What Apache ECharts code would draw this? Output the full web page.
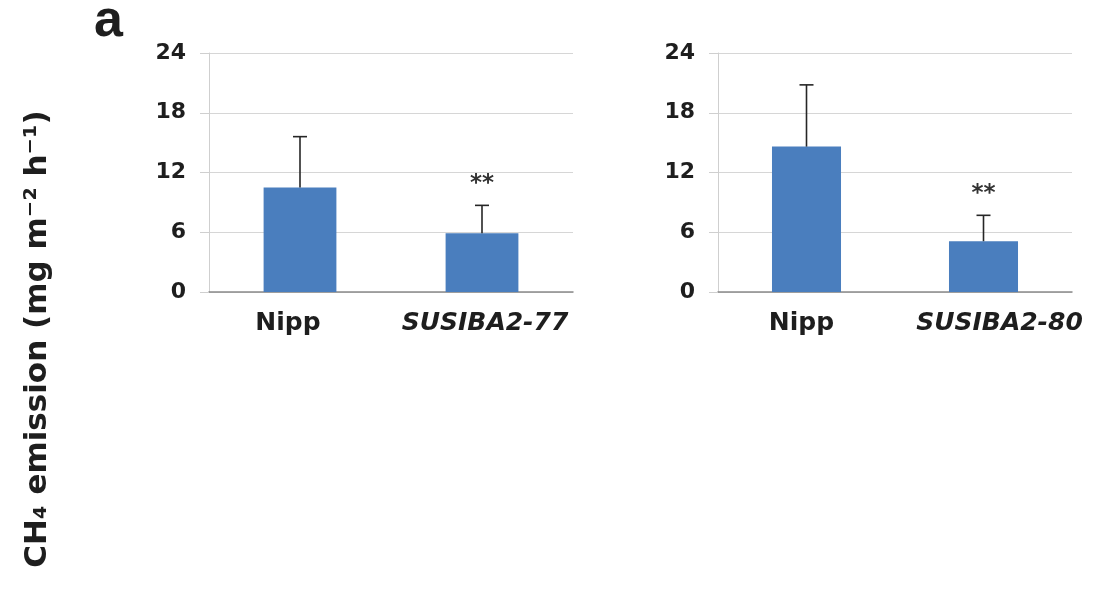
<!DOCTYPE html>
<html>
<head>
<meta charset="utf-8">
<script src="https://cdn.jsdelivr.net/npm/echarts@6/dist/echarts.min.js"></script>
<style>
html,body{margin:0;padding:0;background:#fff;}
#chart{width:1097px;height:612px;}
</style>
</head>
<body>
<div id="chart"></div>
<script>
// ---- data ----
const categoriesA = ['Nipp', 'SUSIBA2-77'];
const valuesA = [10.5, 5.9];
const errorsA = [5.1, 2.8];
const sigA = ['', '**'];

const categoriesB = ['Nipp', 'SUSIBA2-80'];
const valuesB = [14.6, 5.1];
const errorsB = [6.2, 2.6];
const sigB = ['', '**'];

const yTicks = [0, 6, 12, 18, 24];
const yTitle = 'CH\u2084 emission (mg m\u207B\u00B2 h\u207B\u00B9)';
const panelLabel = 'a';

// ---- styling ----
const FONT = 'DejaVu Sans';
const TXT = '#1e1e1e';
const BAR = '#4a7ebe';

const chart = echarts.init(document.getElementById('chart'), null, {renderer: 'canvas'});

function yAxisCfg(gi) {
  return {
    type: 'value', gridIndex: gi,
    min: yTicks[0], max: yTicks[yTicks.length - 1], interval: yTicks[1] - yTicks[0],
    axisLine: {show: true, lineStyle: {color: '#cfcfcf', width: 1}},
    axisTick: {show: true, length: 9, lineStyle: {color: '#cfcfcf'}},
    splitLine: {show: true, lineStyle: {color: '#d6d6d6', width: 1}},
    axisLabel: {margin: 23, fontFamily: FONT, fontWeight: 'bold', fontSize: 22, color: TXT}
  };
}

function xAxisCfg(gi, cats, padN, padI) {
  return {
    type: 'category', gridIndex: gi, data: cats,
    axisLine: {show: true, lineStyle: {color: '#8a8a8a', width: 1.5}},
    axisTick: {show: false},
    axisLabel: {
      margin: 19, interval: 0,
      formatter: (v, i) => (i === 0 ? '{n|' + v + '}' : '{it|' + v + '}'),
      rich: {
        n: {fontFamily: FONT, fontWeight: 'bold', fontSize: 25, color: TXT, padding: padN},
        it: {fontFamily: FONT, fontWeight: 'bold', fontStyle: 'italic', fontSize: 25, color: TXT, padding: padI}
      }
    }
  };
}

function errSeries(gi, vals, errs, sig) {
  return {
    type: 'custom', xAxisIndex: gi, yAxisIndex: gi, z: 5,
    data: vals.map((v, i) => [i, v, errs[i]]),
    renderItem: function (params, api) {
      const x = api.value(0), y = api.value(1), e = api.value(2);
      const p0 = api.coord([x, y]);
      const p1 = api.coord([x, y + e]);
      const hw = 7;
      const style = {stroke: '#262626', lineWidth: 1.6};
      const children = [
        {type: 'line', shape: {x1: p0[0], y1: p0[1], x2: p1[0], y2: p1[1]}, style: style},
        {type: 'line', shape: {x1: p1[0] - hw, y1: p1[1], x2: p1[0] + hw, y2: p1[1]}, style: style}
      ];
      const s = sig[params.dataIndex];
      if (s) {
        children.push({
          type: 'text',
          style: {
            text: s, x: p1[0], y: p1[1] - 21,
            align: 'center', verticalAlign: 'middle',
            font: 'bold 23px "' + FONT + '"', fill: '#333'
          }
        });
      }
      return {type: 'group', children: children};
    }
  };
}

const option = {
  backgroundColor: '#ffffff',
  animation: false,
  title: {
    text: panelLabel, left: 89, top: -9,
    textStyle: {fontFamily: 'Liberation Sans', fontWeight: 'bold', fontSize: 52, color: TXT}
  },
  graphic: [{
    type: 'text', x: 38, y: 339, rotation: Math.PI / 2,
    style: {
      text: yTitle, align: 'center', verticalAlign: 'middle',
      font: 'bold 31px "' + FONT + '"', fill: TXT
    }
  }],
  grid: [
    {left: 209, top: 53, width: 364, height: 239},
    {left: 718, top: 53, width: 354, height: 239}
  ],
  xAxis: [
    xAxisCfg(0, categoriesA, [0, 24, 0, 0], [0, 0, 0, 6]),
    xAxisCfg(1, categoriesB, [0, 10, 0, 0], [0, 0, 0, 32])
  ],
  yAxis: [yAxisCfg(0), yAxisCfg(1)],
  series: [
    {type: 'bar', xAxisIndex: 0, yAxisIndex: 0, data: valuesA, barWidth: '40%',
     itemStyle: {color: BAR}},
    {type: 'bar', xAxisIndex: 1, yAxisIndex: 1, data: valuesB, barWidth: '39%',
     itemStyle: {color: BAR}},
    errSeries(0, valuesA, errorsA, sigA),
    errSeries(1, valuesB, errorsB, sigB)
  ]
};
chart.setOption(option);
</script>
</body>
</html>
